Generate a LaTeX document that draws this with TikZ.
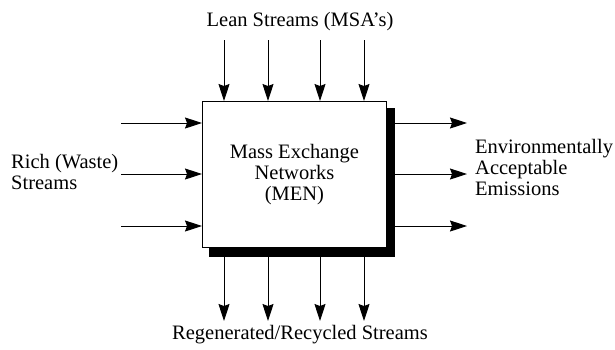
\documentclass[tikz,border=0pt]{standalone}
\usepackage{fontspec}
\setmainfont{Liberation Serif}
\usetikzlibrary{arrows.meta}
\begin{document}
\begin{tikzpicture}[x=1pt,y=-1pt,
  flow/.style={line width=0.9pt,-{Stealth[length=17pt,width=11pt,inset=2pt]}},
  txt/.style={font=\fontsize{20.5}{21}\selectfont,inner sep=0pt},
  box/.style={draw,line width=0.9pt,fill=white}]
  \useasboundingbox (0,0) rectangle (615,349);
  % drop shadow, then the network box on top
  \fill (209,108) rectangle (395,257);
  \node[box,minimum width=184pt,minimum height=146pt,anchor=north west] (men) at (202,101) {};
  \node[txt,align=center] (mentxt) at (men.center) {Mass Exchange\\Networks\\(MEN)};
  % labels (multi-line nodes are placed by the baseline of their last line)
  \node[txt,anchor=base] (lean) at (300,26) {Lean Streams (MSA's)};
  \node[txt,anchor=base] (regen) at (300,339) {Regenerated/Recycled Streams};
  \node[txt,align=left,anchor=base west] (rich) at (11,189) {Rich (Waste)\\Streams};
  \node[txt,align=left,anchor=base west] (env) at (475,195) {Environmentally\\Acceptable\\Emissions};
  % stream end points
  \foreach \i/\x in {1/224,2/268,3/320,4/364} {
    \coordinate (ti\i) at (\x,40);
    \coordinate (te\i) at (\x,101);
    \coordinate (bs\i) at (\x,257);
    \coordinate (be\i) at (\x,321);
  }
  \foreach \i/\y in {1/123,2/174,3/226} {
    \coordinate (li\i) at (121,\y);
    \coordinate (le\i) at (202,\y);
    \coordinate (rs\i) at (395,\y);
    \coordinate (re\i) at (467,\y);
  }
  % lean streams in, regenerated streams out
  \foreach \i in {1,...,4} {
    \draw[flow] (ti\i) -- (te\i);
    \draw[flow] (bs\i) -- (be\i);
  }
  % rich streams in, emissions out
  \foreach \i in {1,2,3} {
    \draw[flow] (li\i) -- (le\i);
    \draw[flow] (rs\i) -- (re\i);
  }
\end{tikzpicture}
\end{document}
